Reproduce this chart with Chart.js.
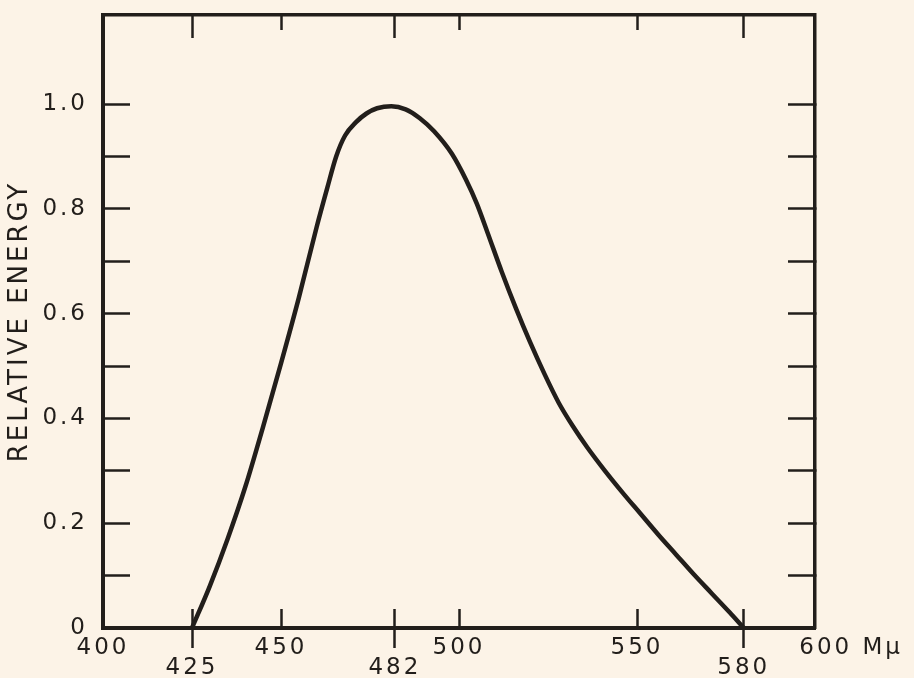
<!DOCTYPE html>
<html>
<head>
<meta charset="utf-8">
<script src="https://cdn.jsdelivr.net/npm/chart.js@4/dist/chart.umd.min.js"></script>
<style>
  html, body { margin: 0; padding: 0; background: #fcf3e7; }
  canvas { display: block; }
</style>
</head>
<body>
<canvas id="energy-chart" width="914" height="678"></canvas>
<script>
// values (wavelength in mu, relative energy)
var wavelength = [425, 430, 435, 440, 445, 450, 455, 460, 463, 465.5, 468, 471, 474, 477, 481, 485, 489, 493, 498, 502, 505, 508, 512, 516, 520, 524, 528, 532, 536, 541, 546, 551, 556, 561, 566, 571, 576, 580];
var energy     = [0, 0.08, 0.17, 0.27, 0.385, 0.505, 0.63, 0.765, 0.84, 0.9, 0.94, 0.965, 0.982, 0.992, 0.996, 0.99, 0.973, 0.948, 0.905, 0.855, 0.81, 0.755, 0.68, 0.61, 0.545, 0.485, 0.43, 0.385, 0.345, 0.3, 0.258, 0.218, 0.178, 0.14, 0.102, 0.066, 0.03, 0];

var xTicks = [400, 425, 450, 482, 500, 550, 580, 600];
var xLowerRow = [425, 482, 580];
var xShortTicks = [450, 500, 550];
var yTicks = [0, 0.1, 0.2, 0.3, 0.4, 0.5, 0.6, 0.7, 0.8, 0.9, 1.0];
var yLabelled = [0, 0.2, 0.4, 0.6, 0.8, 1.0];

var ink = '#221e1b';

Chart.defaults.font.family = "'DejaVu Sans', sans-serif";
Chart.defaults.color = ink;

// the lettering on the original is widely spaced
var letterSpacing = {
    id: 'letterSpacing',
    beforeUpdate: function(chart) { chart.ctx.letterSpacing = '3px'; },
    beforeDraw: function(chart) { chart.ctx.letterSpacing = '3px'; }
};

function setXTicks(scale) { scale.ticks = xTicks.map(function(v) { return {value: v}; }); }
function setYTicks(scale) { scale.ticks = yTicks.map(function(v) { return {value: v}; }); }

// an axis that only draws tick marks pointing into the plot
function tickAxis(position, length, shown, border) {
    var horizontal = position === 'top' || position === 'bottom';
    return {
        type: 'linear',
        position: position,
        min: horizontal ? 400 : 0,
        max: horizontal ? 600 : 1.17,
        weight: 0,
        afterBuildTicks: horizontal ? setXTicks : setYTicks,
        afterFit: function(s) {
            if (horizontal) s.height = 0; else s.width = 0;
            s.paddingTop = s.paddingBottom = s.paddingLeft = s.paddingRight = 0;
        },
        grid: {
            drawOnChartArea: false,
            tickLength: -length,
            tickWidth: 2.5,
            tickColor: function(c) { return shown.indexOf(c.tick.value) >= 0 ? ink : 'transparent'; }
        },
        border: { display: border, color: ink, width: 3.5 },
        ticks: { display: false }
    };
}

var config = {
    type: 'line',
    data: {
        datasets: [{
            data: wavelength.map(function(w, i) { return {x: w, y: energy[i]}; }),
            borderColor: ink,
            borderWidth: 4.5,
            pointRadius: 0,
            cubicInterpolationMode: 'monotone',
            fill: false
        }]
    },
    options: {
        responsive: false,
        animation: false,
        layout: { padding: { top: 15, right: 99, bottom: 0, left: 0 } },
        plugins: { legend: { display: false }, tooltip: { enabled: false } },
        scales: {
            x: {
                type: 'linear',
                position: 'bottom',
                min: 400,
                max: 600,
                weight: 1,
                afterBuildTicks: setXTicks,
                afterFit: function(s) { s.height = 50; },
                grid: {
                    drawOnChartArea: false,
                    tickLength: 20,
                    tickWidth: 2.5,
                    tickColor: function(c) { return xLowerRow.indexOf(c.tick.value) >= 0 ? ink : 'transparent'; }
                },
                border: { color: ink, width: 4 },
                ticks: {
                    autoSkip: false,
                    maxRotation: 0,
                    padding: -10,
                    font: { size: 23, lineHeight: '20px' },
                    callback: function(v) {
                        if (xLowerRow.indexOf(v) >= 0) return ['', String(v)];
                        if (v === 600) return '       600 Mμ';
                        return String(v);
                    }
                }
            },
            xIn: tickAxis('bottom', 19, xLowerRow.concat(xShortTicks), false),
            xTopLong: tickAxis('top', 23, xLowerRow, true),
            xTopShort: tickAxis('top', 15, xShortTicks, false),
            yRight: tickAxis('right', 27, yTicks.slice(1), true),
            y: {
                type: 'linear',
                position: 'left',
                min: 0,
                max: 1.17,
                afterBuildTicks: setYTicks,
                afterFit: function(s) {
                    s.width = 103;
                    s.paddingTop = s.paddingBottom = 0;
                },
                grid: {
                    drawOnChartArea: false,
                    tickLength: -27,
                    tickWidth: 2.5,
                    tickColor: function(c) { return c.tick.value > 0 ? ink : 'transparent'; }
                },
                border: { color: ink, width: 4 },
                title: {
                    display: true,
                    text: 'RELATIVE ENERGY',
                    font: { size: 26 },
                    padding: { top: 5, bottom: 0 }
                },
                ticks: {
                    padding: 42,
                    font: { size: 23 },
                    callback: function(v) {
                        if (yLabelled.indexOf(v) < 0) return '';
                        return v === 0 ? '0' : v.toFixed(1);
                    }
                }
            }
        }
    },
    plugins: [letterSpacing]
};

var ctx = document.getElementById('energy-chart').getContext('2d');
window.energyChart = new Chart(ctx, config);
</script>
</body>
</html>
